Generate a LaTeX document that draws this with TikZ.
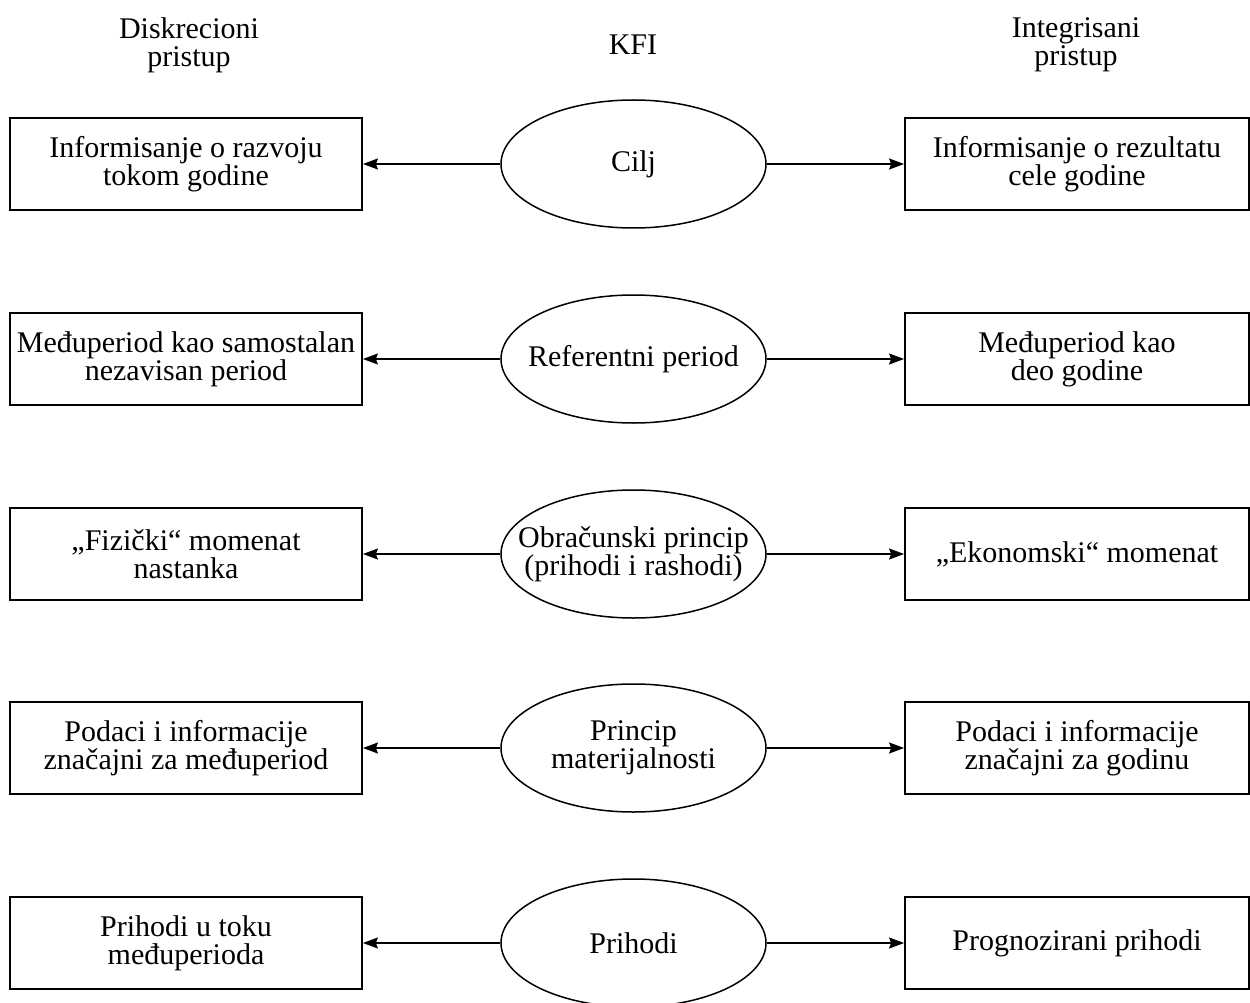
\documentclass[tikz,border=0pt]{standalone}
\usepackage{fontspec}
\setmainfont{Liberation Serif}
\usetikzlibrary{shapes.geometric,arrows.meta}
\begin{document}
\begin{tikzpicture}[x=1pt,y=-1pt,
  every node/.style={font=\fontsize{30}{28}\selectfont, align=center, inner sep=0pt},
  sidebox/.style={draw, line width=1.8pt, minimum height=92pt},
  leftbox/.style={sidebox, minimum width=352pt},
  rightbox/.style={sidebox, minimum width=344pt},
  topic/.style={draw, ellipse, line width=1.5pt, minimum width=265pt, minimum height=128pt},
  link/.style={line width=1.5pt, -{Stealth[length=15pt,width=11pt,inset=2pt]}}
]
\useasboundingbox (0,0) rectangle (1250,1003);

% column headings
\node (hl) at (189,45) {Diskrecioni\\pristup};
\node (hm) at (633,45) {KFI};
\node (hr) at (1076,45) {Integrisani\\pristup};

% central topics: fixed-size ellipses with their captions on top
\foreach \i/\y/\txt in {1/164/{Cilj},
                        2/359/{Referentni period},
                        3/554/{Obračunski princip\\(prihodi i rashodi)},
                        4/748/{Princip\\materijalnosti},
                        5/943/{Prihodi}}{
  \node[topic] (k\i) at (633.5,\y) {};
  \node (t\i) at (k\i.center) {\txt};
}

% discretionary approach (left)
\node[leftbox] (l1) at (186,164) {Informisanje o razvoju\\tokom godine};
\node[leftbox] (l2) at (186,359) {Međuperiod kao samostalan\\nezavisan period};
\node[leftbox] (l3) at (186,554) {„Fizički“ momenat\\nastanka};
\node[leftbox] (l4) at (186,748) {Podaci i informacije\\značajni za međuperiod};
\node[leftbox] (l5) at (186,943) {Prihodi u toku\\međuperioda};

% integrated approach (right)
\node[rightbox] (r1) at (1077,164) {Informisanje o rezultatu\\cele godine};
\node[rightbox] (r2) at (1077,359) {Međuperiod kao\\deo godine};
\node[rightbox] (r3) at (1077,554) {„Ekonomski“ momenat};
\node[rightbox] (r4) at (1077,748) {Podaci i informacije\\značajni za godinu};
\node[rightbox] (r5) at (1077,943) {Prognozirani prihodi};

% connectors from each topic to both approaches
\foreach \i in {1,...,5}{
  \draw[link] (k\i.west) -- (l\i.east);
  \draw[link] (k\i.east) -- (r\i.west);
}
\end{tikzpicture}
\end{document}
